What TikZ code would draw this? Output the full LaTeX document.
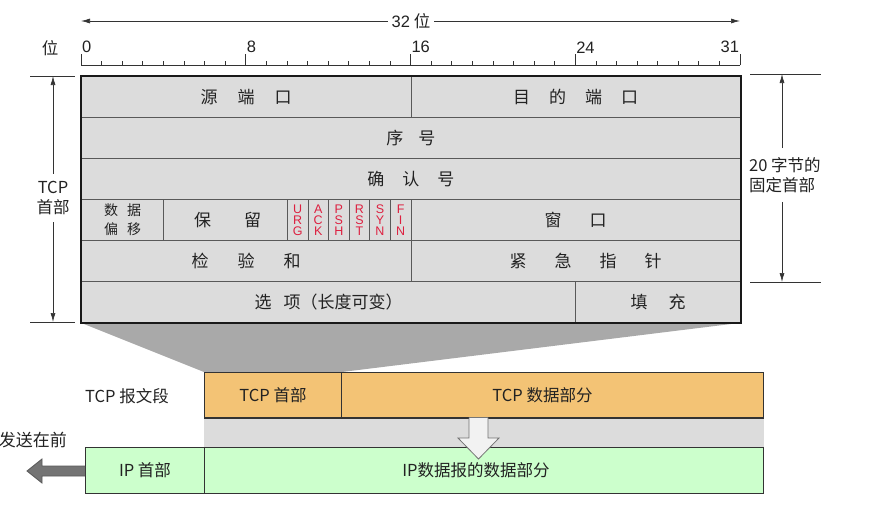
\documentclass[tikz,border=0pt]{standalone}
\usepackage{fontspec}
\setmainfont{Noto Sans CJK SC}
\newfontfamily\latf{Liberation Sans}
\usetikzlibrary{arrows.meta}
\definecolor{hdrgray}{HTML}{DCDCDC}
\definecolor{trapgray}{HTML}{A9A9A9}
\definecolor{segorange}{HTML}{F3C375}
\definecolor{ipgreen}{HTML}{CCFFCC}
\definecolor{flagred}{HTML}{DD2040}
\definecolor{arrgray}{HTML}{747474}
\definecolor{txt}{HTML}{222222}
\newcommand{\myhfont}{\fontsize{17}{19}\selectfont}
\newcommand{\mylfont}{\fontsize{16.5}{20}\selectfont}
\begin{document}
\begin{tikzpicture}[x=1pt,y=-1pt,
  cell/.style={draw=black!65, line width=0.8pt, fill=hdrgray, minimum height=41pt,
    inner sep=0pt, anchor=north west, font=\myhfont, text=txt},
  flagcell/.style={cell, minimum width=20.59pt, align=center, text=flagred,
    font=\latf\fontsize{12.5}{11}\selectfont},
  segbox/.style={draw=black!80, line width=1pt, fill=segorange, minimum height=45pt,
    inner sep=0pt, anchor=north west, font=\mylfont, text=txt},
  ipbox/.style={draw=black!80, line width=1pt, fill=ipgreen, minimum height=46pt,
    inner sep=0pt, anchor=north west, font=\mylfont, text=txt},
  dimarr/.style={draw=black!80, line width=0.7pt, -{Latex[length=9pt,width=5pt]}},
  tickline/.style={draw=black!80, line width=0.7pt},
  lbl/.style={font=\mylfont, text=txt},
  rlbl/.style={font=\latf\fontsize{16.5}{16.5}\selectfont, text=txt, inner sep=0.8pt}
]
\useasboundingbox (0,0) rectangle (878,504);

% ---- header cells
\node[cell, minimum width=329.5pt] (srcport) at (81,76) {源\hspace{20pt}端\hspace{20pt}口};
\node[cell, minimum width=329.5pt] (dstport) at (410.5,76) {目\hspace{19pt}的\hspace{19pt}端\hspace{19pt}口};
\node[cell, minimum width=659pt] (seq) at (81,117) {序\hspace{15pt}号};
\node[cell, minimum width=659pt] (ackn) at (81,158) {确\hspace{18pt}认\hspace{18pt}号};
\node[cell, minimum width=82.38pt, align=center, font=\fontsize{14}{19}\selectfont] (doff) at (81,199) {数\hspace{9pt}据\\偏\hspace{9pt}移};
\node[cell, minimum width=123.56pt] (rsv) at (163.38,199) {\hspace{4pt}保\hspace{33pt}留};
\node[flagcell] (furg) at (286.94,199) {U\\R\\G};
\node[flagcell] (fack) at (307.53,199) {A\\C\\K};
\node[flagcell] (fpsh) at (328.13,199) {P\\S\\H};
\node[flagcell] (frst) at (348.72,199) {R\\S\\T};
\node[flagcell] (fsyn) at (369.31,199) {S\\Y\\N};
\node[flagcell] (ffin) at (389.91,199) {F\\I\\N};
\node[cell, minimum width=329.5pt] (win) at (410.5,199) {窗\hspace{28pt}口};
\node[cell, minimum width=329.5pt] (cksum) at (81,240) {检\hspace{29pt}验\hspace{29pt}和};
\node[cell, minimum width=329.5pt] (urgp) at (410.5,240) {\hspace{20pt}紧\hspace{28pt}急\hspace{28pt}指\hspace{28pt}针};
\node[cell, minimum width=494.25pt] (optn) at (81,281) {选\hspace{12pt}项（长度可变）};
\node[cell, minimum width=164.75pt] (pad) at (575.25,281) {填\hspace{21pt}充};
\draw[line width=1.8pt, black!90] (srcport.north west) rectangle (pad.south east);

% ---- ruler
\draw[tickline] (81,65) -- (740,65);
\foreach \i in {0,...,32} {
  \draw[tickline] ({81+20.594*\i},65) -- ({81+20.594*\i},60.5);
}
\foreach \i in {0,8,16,24,32} {
  \draw[tickline] ({81+20.594*\i},65) -- ({81+20.594*\i},54);
}
\node[rlbl, anchor=south west] (r0) at (81,54) {0};
\node[rlbl, anchor=south west] (r8) at (245.75,54) {8};
\node[rlbl, anchor=south west] (r16) at (410.5,54) {16};
\node[rlbl, anchor=south west] (r24) at (575.25,54) {24};
\node[rlbl, anchor=south east] (r31) at (740,54) {31};
\node[lbl] (wei) at (50,48) {位};

% ---- 32 bits arrow
\coordinate (L32) at (81,21);
\coordinate (R32) at (740,21);
\node[lbl, inner xsep=4pt] (w32) at (411,21) {{\latf 32} 位};
\draw[dimarr] (w32.west) -- (L32);
\draw[dimarr] (w32.east) -- (R32);

% ---- left dimension: TCP header
\coordinate (ltop) at (53,76);
\coordinate (lbot) at (53,322);
\draw[tickline] (30,76) -- (75,76);
\draw[tickline] (30,322) -- (75,322);
\node[lbl, align=center, inner ysep=7pt] (tcplbl) at (53,198) {TCP\\首部};
\draw[dimarr] (tcplbl.north) -- (ltop);
\draw[dimarr] (tcplbl.south) -- (lbot);

% ---- right dimension: 20 bytes
\coordinate (rtop) at (782,74);
\coordinate (rbot) at (782,282);
\draw[tickline] (750,74) -- (821,74);
\draw[tickline] (750,282) -- (821,282);
\node[lbl, align=left, anchor=west, inner ysep=9pt, inner xsep=0pt] (fixlbl) at (749,175) {20 字节的\\固定首部};
\draw[dimarr] (rtop |- fixlbl.north) -- (rtop);
\draw[dimarr] (rbot |- fixlbl.south) -- (rbot);

% ---- TCP segment
\node[segbox, minimum width=137pt] (tcph) at (204,372) {TCP 首部};
\node[segbox, minimum width=422pt] (tcpd) at (341,372) {\hspace{-20pt}TCP 数据部分};
\node[lbl] (seglbl) at (127,396) {TCP 报文段};

% ---- IP datagram
\node[ipbox, minimum width=119pt] (iph) at (85,447) {IP 首部};
\node[ipbox, minimum width=559pt] (ipd) at (204,447) {\hspace{-16pt}IP数据报的数据部分};

% ---- connecting shapes
\fill[hdrgray] (tcph.south west) rectangle (tcpd.south east |- ipd.north);
\draw[black!80, line width=1pt] (tcph.south west) -- (tcpd.south east);
\draw[black!80, line width=1pt] (iph.north west) -- (ipd.north east);
\fill[trapgray] (optn.south west) -- (pad.south east) -- (tcph.north east) -- (tcph.north west) -- cycle;
\draw[line width=1.8pt, black!90] (optn.south west) -- (pad.south east);
\draw[black!80, line width=1pt] (tcph.north west) -- (tcpd.north east);

% ---- hollow down arrow
\path[fill=black!5, draw=black!55, line width=0.8pt]
  (469,417.5) -- (469,438) -- (458,438) -- (478.5,459) -- (499,438) -- (488,438) -- (488,417.5);

% ---- send-first arrow
\path[fill=arrgray, draw=black!65, line width=0.8pt]
  (85,466) -- (42,466) -- (42,459) -- (27,471) -- (42,483) -- (42,476) -- (85,476);
\node[lbl, anchor=east, inner sep=0pt, font=\fontsize{17}{17}\selectfont] (sendfirst) at (67,440) {发送在前};
\end{tikzpicture}
\end{document}
